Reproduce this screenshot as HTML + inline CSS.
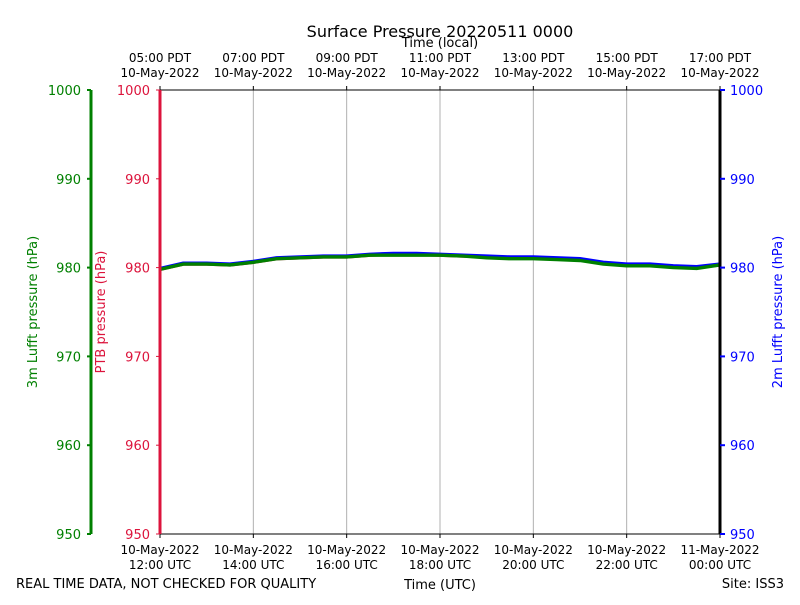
<!DOCTYPE html>
<html><head><meta charset="utf-8"><style>
body{margin:0;background:#fff}
svg text{font-family:"DejaVu Sans","Liberation Sans",sans-serif}
</style></head><body>
<svg id="chart" width="800" height="600" xmlns="http://www.w3.org/2000/svg">
<rect width="800" height="600" fill="#fff"/>
<text x="440" y="37" font-size="16" text-anchor="middle">Surface Pressure 20220511 0000</text>
<text x="440" y="47" font-size="13" text-anchor="middle">Time (local)</text>
<text x="440" y="589" font-size="13" text-anchor="middle">Time (UTC)</text>
<text x="16" y="588" font-size="13">REAL TIME DATA, NOT CHECKED FOR QUALITY</text>
<text x="784" y="588" font-size="13" text-anchor="end">Site: ISS3</text>
<g id="grid"></g>
<g id="series"></g>
<g id="axes"></g>
</svg>
<script>
const hours = [0,0.5,1,1.5,2,2.5,3,3.5,4,4.5,5,5.5,6,6.5,7,7.5,8,8.5,9,9.5,10,10.5,11,11.5,12];
const ptb = [979.8,980.4,980.4,980.3,980.6,981.0,981.1,981.2,981.2,981.4,981.5,981.5,981.4,981.3,981.2,981.1,981.1,981.0,980.9,980.5,980.3,980.3,980.1,980.0,980.3];
const lufft2m = [979.9,980.5,980.5,980.4,980.7,981.1,981.2,981.3,981.3,981.5,981.6,981.6,981.5,981.4,981.3,981.2,981.2,981.1,981.0,980.6,980.4,980.4,980.2,980.1,980.4];
const lufft3m = [979.8,980.4,980.4,980.3,980.6,981.0,981.1,981.2,981.2,981.4,981.4,981.4,981.4,981.3,981.1,981.0,981.0,980.9,980.8,980.4,980.2,980.2,980.0,979.9,980.3];
const yTicks = [950,960,970,980,990,1000];
const xTickHours = [0,2,4,6,8,10,12];
const utcLabels = [["10-May-2022","12:00 UTC"],["10-May-2022","14:00 UTC"],["10-May-2022","16:00 UTC"],["10-May-2022","18:00 UTC"],["10-May-2022","20:00 UTC"],["10-May-2022","22:00 UTC"],["11-May-2022","00:00 UTC"]];
const localLabels = [["05:00 PDT","10-May-2022"],["07:00 PDT","10-May-2022"],["09:00 PDT","10-May-2022"],["11:00 PDT","10-May-2022"],["13:00 PDT","10-May-2022"],["15:00 PDT","10-May-2022"],["17:00 PDT","10-May-2022"]];

const X0=160,X1=720,Y0=534,Y1=90;
const xs=h=>X0+(h/12)*(X1-X0);
const ys=v=>Y0-(v-950)/50*(Y0-Y1);
const NS="http://www.w3.org/2000/svg";
function mk(parent,tag,attrs,txt){const e=document.createElementNS(NS,tag);for(const k in attrs)e.setAttribute(k,attrs[k]);if(txt!==undefined)e.textContent=txt;parent.appendChild(e);return e;}
const grid=document.getElementById('grid'),ser=document.getElementById('series'),ax=document.getElementById('axes');

xTickHours.forEach((h,i)=>{
  if(i>0&&i<xTickHours.length-1){const g=mk(grid,'line',{x1:xs(h),x2:xs(h),y1:Y1,y2:Y0,stroke:'#b0b0b0','stroke-width':1});
  
  }
  mk(ax,'line',{x1:xs(h),x2:xs(h),y1:Y0,y2:Y0+4,stroke:'#000'});
  mk(ax,'line',{x1:xs(h),x2:xs(h),y1:Y1,y2:Y1-4,stroke:'#000'});
  const t=mk(ax,'text',{x:xs(h),y:554,'font-size':12,'text-anchor':'middle'},utcLabels[i][0]);
  
  
  mk(ax,'text',{x:xs(h),y:569,'font-size':12,'text-anchor':'middle'},utcLabels[i][1]);
  const t2=mk(ax,'text',{x:xs(h),y:62,'font-size':12,'text-anchor':'middle'},localLabels[i][0]);
  
  
  mk(ax,'text',{x:xs(h),y:77,'font-size':12,'text-anchor':'middle'},localLabels[i][1]);
});

function series(vals,color,name){
  const p=mk(ser,'polyline',{points:hours.map((h,i)=>xs(h)+','+ys(vals[i])).join(' '),fill:'none',stroke:color,'stroke-width':3.4,'stroke-linejoin':'round'});
  
  
}
series(ptb,'#dc143c','ptb-pressure-line');
series(lufft2m,'#0000ff','lufft-2m-pressure-line');
series(lufft3m,'#008000','lufft-3m-pressure-line');

mk(ax,'line',{x1:X0,x2:X1,y1:Y1,y2:Y1,stroke:'#000'});
mk(ax,'line',{x1:X0,x2:X1,y1:Y0,y2:Y0,stroke:'#000'});
mk(ax,'line',{x1:X0,x2:X0,y1:Y1,y2:Y0,stroke:'#dc143c','stroke-width':3});
mk(ax,'line',{x1:X1,x2:X1,y1:Y1,y2:Y0,stroke:'#000','stroke-width':3});
mk(ax,'line',{x1:91,x2:91,y1:Y1,y2:Y0,stroke:'#008000','stroke-width':3});

yTicks.forEach(v=>{
  const y=ys(v);
  mk(ax,'line',{x1:X0-4,x2:X0,y1:y,y2:y,stroke:'#dc143c'});
  const a=mk(ax,'text',{x:150,y:y+5,'font-size':13,'text-anchor':'end',fill:'#dc143c'},v);
  
  
  mk(ax,'line',{x1:87,x2:91,y1:y,y2:y,stroke:'#008000','stroke-width':2});
  const b=mk(ax,'text',{x:81,y:y+5,'font-size':13,'text-anchor':'end',fill:'#008000'},v);
  
  
  mk(ax,'line',{x1:X1,x2:X1+5,y1:y,y2:y,stroke:'#0000ff','stroke-width':2});
  const c=mk(ax,'text',{x:730,y:y+5,'font-size':13,fill:'#0000ff'},v);
  
  
});
const l1=mk(ax,'text',{transform:'translate(105,312) rotate(-90)','font-size':13,'text-anchor':'middle',fill:'#dc143c'},'PTB pressure (hPa)');


const l2=mk(ax,'text',{transform:'translate(37,312) rotate(-90)','font-size':13,'text-anchor':'middle',fill:'#008000'},'3m Lufft pressure (hPa)');


const l3=mk(ax,'text',{transform:'translate(782,312) rotate(-90)','font-size':13,'text-anchor':'middle',fill:'#0000ff'},'2m Lufft pressure (hPa)');


</script>
</body></html>
